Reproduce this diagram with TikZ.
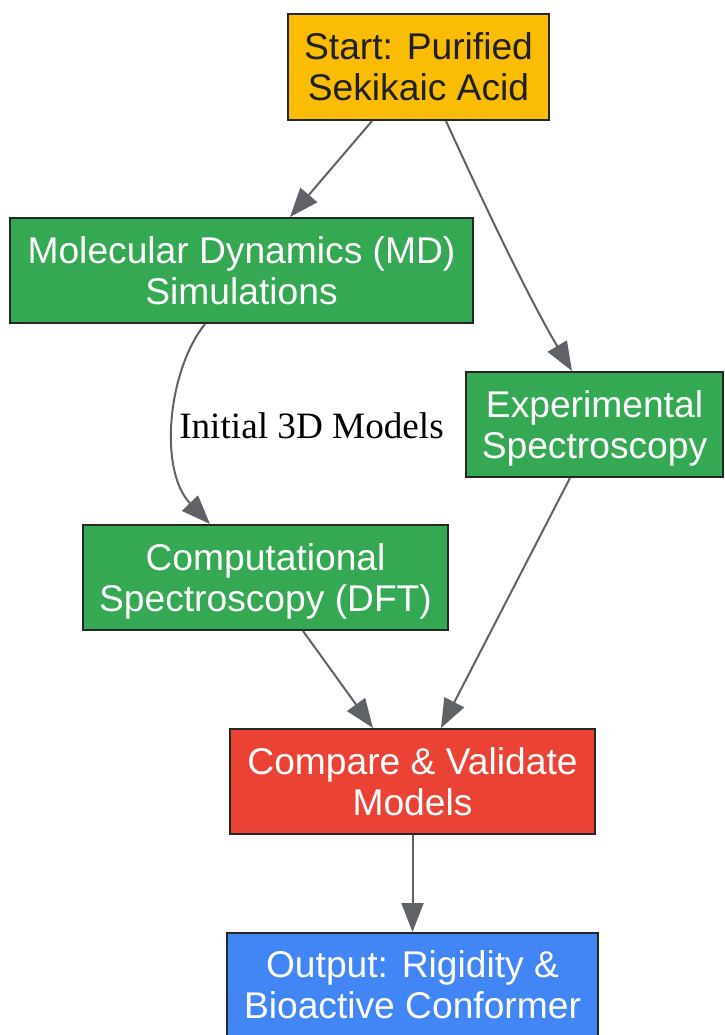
\documentclass[tikz,border=0pt]{standalone}
\usepackage{fontspec}
\setmainfont{Liberation Sans}
\newfontfamily\lserif{Liberation Serif}
\usetikzlibrary{arrows.meta}
\definecolor{cOrange}{HTML}{FBBC04}
\definecolor{cGreen}{HTML}{34A853}
\definecolor{cRed}{HTML}{EA4335}
\definecolor{cBlue}{HTML}{4285F4}
\definecolor{cEdge}{HTML}{5F6368}
\definecolor{cBorder}{HTML}{262626}
\definecolor{cDark}{HTML}{202124}
\newcommand{\nodepth}[1]{\raisebox{0pt}[\height][-5pt]{#1}}
\tikzset{
  box/.style={draw=cBorder, line width=2pt, rectangle, inner sep=0pt,
    align=center, font=\fontsize{37.2}{41}\selectfont},
  conn/.style={draw=cEdge, line width=2pt, -{Triangle[length=29pt,width=22pt]}},
  elabel/.style={inner sep=0pt, font=\lserif\fontsize{37.2}{41}\selectfont, text=black}
}
\begin{document}
\begin{tikzpicture}[x=1pt,y=1pt]
\useasboundingbox (0,0) rectangle (724,-1035);
\clip (0,0) rectangle (724,-1035);
\fill[white] (0,0) rectangle (724,-1035);

\node[box, fill=cOrange, text=cDark, minimum width=261pt, minimum height=106pt] (start) at (418.5,-67) {Start: Purified\\\nodepth{Sekikaic Acid}};
\node[box, fill=cGreen, text=white, minimum width=463pt, minimum height=105pt] (md) at (241.5,-270.5) {Molecular Dynamics (MD)\\\nodepth{Simulations}};
\node[box, fill=cGreen, text=white, minimum width=257pt, minimum height=105pt] (exp) at (594.5,-424.5) {Experimental\\\nodepth{Spectroscopy}};
\node[box, fill=cGreen, text=white, minimum width=365pt, minimum height=105pt] (comp) at (265.5,-577.5) {Computational\\\nodepth{Spectroscopy (DFT)}};
\node[box, fill=cRed, text=white, minimum width=365pt, minimum height=105pt] (cmp) at (412.5,-781.5) {Compare \& Validate\\\nodepth{Models}};
\node[box, fill=cBlue, text=white, minimum width=371pt, minimum height=104pt] (out) at (412.5,-985) {Output: Rigidity \&\\\nodepth{Bioactive Conformer}};

\draw[conn] ([xshift=-46.5pt]start.south) -- ([xshift=48.5pt]md.north);
\draw[conn] ([xshift=27.5pt]start.south) .. controls (472,-178) and (525,-292) .. ([xshift=-22.5pt]exp.north);
\draw[conn] ([xshift=-36.5pt]md.south) .. controls (168,-370) and (158,-470) .. ([xshift=-55.5pt]comp.north);
\node[elabel, anchor=base] (lab) at (311.5,-438) {Initial 3D Models};
\draw[conn] ([xshift=37.5pt]comp.south) -- ([xshift=-39.5pt]cmp.north);
\draw[conn] ([xshift=-24.5pt]exp.south) -- ([xshift=28.5pt]cmp.north);
\draw[conn] (cmp.south) -- (out.north);
\end{tikzpicture}
\end{document}
